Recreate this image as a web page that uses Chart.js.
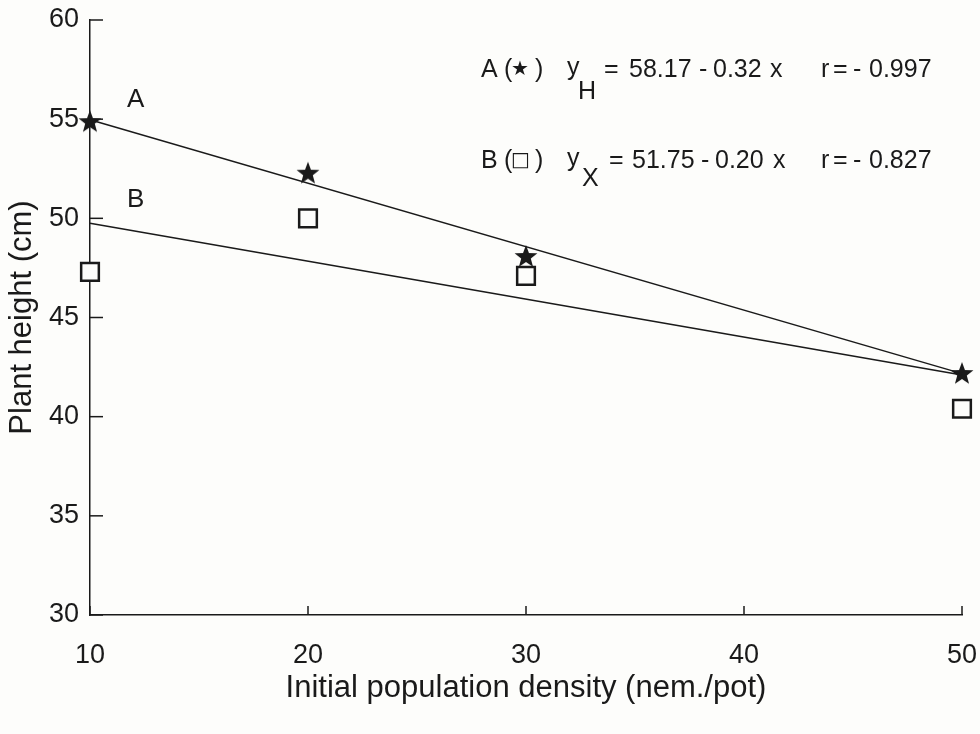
<!DOCTYPE html>
<html>
<head>
<meta charset="utf-8">
<script src="https://cdn.jsdelivr.net/npm/chart.js@4.4.1/dist/chart.umd.min.js"></script>
<style>
  html, body { margin: 0; padding: 0; background: #fdfdfb; }
  #wrap { width: 980px; height: 734px; }
</style>
</head>
<body>
<div id="wrap"><canvas id="plot" width="980" height="734"></canvas></div>
<script>
// valeurs
const densities = [10, 20, 30, 50];
const heightsA = [54.9, 52.3, 48.1, 42.2];   // étoiles
const heightsB = [47.3, 50.0, 47.1, 40.4];   // carrés
const fitXs = [10, 50];
const fitA = [54.97, 42.17];
const fitB = [49.75, 42.1];
const xTicks = [10, 20, 30, 40, 50];
const yTicks = [30, 35, 40, 45, 50, 55, 60];

const ink = "#1a1a1a";
const paper = "#fdfdfb";
const font = "'Liberation Sans', Arial, sans-serif";

// étoile pleine à 5 branches pour la série A
function makeStar(size) {
  const c = document.createElement("canvas");
  c.width = size; c.height = size;
  const g = c.getContext("2d");
  const r = size / 2, ri = r * 0.42;
  g.beginPath();
  for (let i = 0; i < 10; i++) {
    const rad = i % 2 === 0 ? r : ri;
    const a = -Math.PI / 2 + i * Math.PI / 5;
    const px = r + rad * Math.cos(a), py = r + 1 + rad * Math.sin(a);
    if (i === 0) g.moveTo(px, py); else g.lineTo(px, py);
  }
  g.closePath();
  g.fillStyle = ink;
  g.fill();
  return c;
}
const star = makeStar(24);

const toPts = (xs, ys) => xs.map((x, i) => ({ x, y: ys[i] }));

// morceaux des équations (texte, x gauche, décalage vertical, police)
const symFont = "20px 'DejaVu Sans', sans-serif";
const eqA = [["A", 481], ["(", 504], ["★", 511, 0, symFont], [")", 535],
             ["y", 567, -2], ["H", 578, 22], ["=", 604], ["58.17", 629], ["-", 699], ["0.32", 713],
             ["x", 770], ["r", 821], ["=", 833], ["-", 853], ["0.997", 869]];
const eqB = [["B", 481], ["(", 504], ["□", 511, 0, symFont], [")", 535],
             ["y", 567, -2], ["X", 582, 18], ["=", 609], ["51.75", 632], ["-", 701], ["0.20", 715],
             ["x", 773], ["r", 821], ["=", 833], ["-", 853], ["0.827", 869]];

// textes et petits traits vers l'intérieur
const annotations = {
  id: "annotations",
  afterDraw(chart) {
    const { ctx, scales: { x, y }, chartArea } = chart;
    ctx.save();
    ctx.strokeStyle = ink;
    ctx.lineWidth = 1.5;
    yTicks.forEach(v => {
      const py = y.getPixelForValue(v);
      ctx.beginPath(); ctx.moveTo(chartArea.left, py); ctx.lineTo(chartArea.left + 13, py); ctx.stroke();
    });
    xTicks.forEach(v => {
      const px = x.getPixelForValue(v);
      ctx.beginPath(); ctx.moveTo(px, chartArea.bottom); ctx.lineTo(px, chartArea.bottom - 9); ctx.stroke();
    });

    ctx.fillStyle = ink;
    ctx.textBaseline = "middle";
    ctx.textAlign = "left";
    ctx.font = "26px " + font;
    ctx.fillText("A", x.getPixelForValue(11.7), y.getPixelForValue(56.0));
    ctx.fillText("B", x.getPixelForValue(11.7), y.getPixelForValue(50.95));

    [[eqA, 70], [eqB, 161]].forEach(([parts, py]) => {
      parts.forEach(([t, px, dy, f]) => {
        ctx.font = f || "25px " + font;
        ctx.fillText(t, px, py + (dy || 0));
      });
    });
    ctx.restore();
  }
};

new Chart(document.getElementById("plot"), {
  type: "scatter",
  data: {
    datasets: [
      { data: toPts(fitXs, fitA), showLine: true, borderColor: ink, borderWidth: 1.5, pointRadius: 0 },
      { data: toPts(fitXs, fitB), showLine: true, borderColor: ink, borderWidth: 1.5, pointRadius: 0 },
      { data: toPts(densities, heightsA), pointStyle: star, pointRadius: 12 },
      { data: toPts(densities, heightsB), pointStyle: "rect", pointRadius: 12.5,
        backgroundColor: paper, borderColor: ink, borderWidth: 2.5 }
    ]
  },
  options: {
    responsive: false,
    animation: false,
    clip: false,
    layout: { padding: { top: 20, right: 18, left: 0, bottom: 0 } },
    plugins: { legend: { display: false }, tooltip: { enabled: false } },
    scales: {
      x: {
        type: "linear", min: 10, max: 50,
        afterFit: s => { s.height = 119; s.paddingLeft = 0; s.paddingRight = 0; },
        afterBuildTicks: s => { s.ticks = xTicks.map(v => ({ value: v })); },
        grid: { display: false, drawTicks: false },
        border: { display: true, color: ink, width: 1.5 },
        ticks: { color: ink, padding: 24, font: { family: font, size: 27 } },
        title: { display: true, text: "Initial population density (nem./pot)", color: ink,
                 font: { family: font, size: 31 }, padding: { top: 0, bottom: 27 } }
      },
      y: {
        min: 30, max: 60,
        afterFit: s => { s.width = 90; s.paddingTop = 0; s.paddingBottom = 0; },
        afterBuildTicks: s => { s.ticks = yTicks.map(v => ({ value: v })); },
        grid: { display: false, drawTicks: false },
        border: { display: true, color: ink, width: 1.5 },
        ticks: { color: ink, padding: 11, font: { family: font, size: 27 } },
        title: { display: true, text: "Plant height (cm)", color: ink,
                 font: { family: font, size: 31 }, padding: { top: 4, bottom: 0 } }
      }
    }
  },
  plugins: [annotations]
});
</script>
</body>
</html>
